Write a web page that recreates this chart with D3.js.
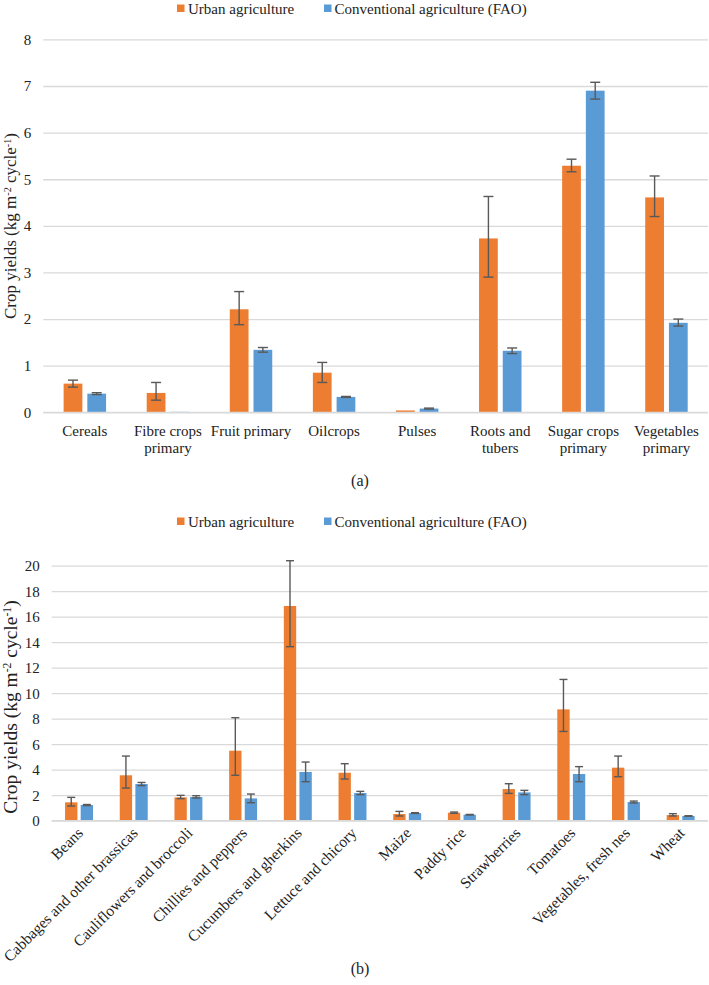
<!DOCTYPE html>
<html>
<head>
<meta charset="utf-8">
<script src="https://cdn.jsdelivr.net/npm/d3@7"></script>
<style>
  html, body { margin: 0; padding: 0; background: #fff; }
  svg { display: block; }
  svg text { font-family: "Liberation Serif", "Tinos", "Times New Roman", "DejaVu Serif", serif; }
</style>
</head>
<body>
<svg id="chart" width="709" height="985"></svg>
<script>
// ---------- Data ----------
const seriesNames = ["Urban agriculture", "Conventional agriculture (FAO)"];
const seriesColors = ["#ED7D31", "#5B9BD5"];

// Panel (a)
const categoriesA = ["Cereals", "Fibre crops primary", "Fruit primary", "Oilcrops", "Pulses", "Roots and tubers", "Sugar crops primary", "Vegetables primary"];
const urbanA      = [0.615, 0.415, 2.21, 0.85, 0.04, 3.73, 5.29, 4.61];
const urbanA_lo   = [0.54, 0.26, 1.88, 0.64, null, 2.90, 5.16, 4.20];
const urbanA_hi   = [0.69, 0.64, 2.59, 1.07, null, 4.63, 5.43, 5.07];
const convA       = [0.40, 0.01, 1.34, 0.33, 0.08, 1.32, 6.90, 1.92];
const convA_lo    = [0.38, null, 1.29, 0.32, 0.07, 1.26, 6.72, 1.85];
const convA_hi    = [0.42, null, 1.39, 0.34, 0.09, 1.38, 7.08, 2.00];
const ticksA      = [0, 1, 2, 3, 4, 5, 6, 7, 8];

// Panel (b)
const categoriesB = ["Beans", "Cabbages and other brassicas", "Cauliflowers and broccoli", "Chillies and peppers", "Cucumbers and gherkins", "Lettuce and chicory", "Maize", "Paddy rice", "Strawberries", "Tomatoes", "Vegetables, fresh nes", "Wheat"];
const urbanB      = [1.44, 3.56, 1.83, 5.49, 16.84, 3.76, 0.52, 0.63, 2.48, 8.73, 4.16, 0.44];
const urbanB_lo   = [1.15, 2.56, 1.73, 3.56, 13.65, 3.27, 0.37, 0.58, 2.14, 7.00, 3.45, 0.37];
const urbanB_hi   = [1.83, 5.07, 1.99, 8.08, 20.39, 4.47, 0.73, 0.68, 2.90, 11.08, 5.07, 0.55];
const convB       = [1.23, 2.88, 1.86, 1.75, 3.82, 2.17, 0.60, 0.47, 2.22, 3.66, 1.46, 0.37];
const convB_lo    = [1.19, 2.75, 1.78, 1.41, 3.06, 2.04, 0.57, 0.45, 2.04, 3.06, 1.39, 0.35];
const convB_hi    = [1.27, 3.00, 1.96, 2.09, 4.60, 2.30, 0.63, 0.49, 2.38, 4.24, 1.54, 0.39];
const ticksB      = [0, 2, 4, 6, 8, 10, 12, 14, 16, 18, 20];

// ---------- Drawing ----------
const FONT = "'Liberation Serif', Tinos, 'Times New Roman', 'DejaVu Serif', serif";
const svg = d3.select("#chart");
const gridColor = "#D9D9D9";
const errColor = "#595959";
const textColor = "#222";

function buildRows(cats, u, ulo, uhi, c, clo, chi) {
  return cats.map((name, i) => ({
    name,
    vals: [
      { s: 0, v: u[i], lo: ulo[i], hi: uhi[i] },
      { s: 1, v: c[i], lo: clo[i], hi: chi[i] }
    ]
  }));
}

function drawLegend(yCenter) {
  const g = svg.append("g");
  const items = [{ x: 177, tx: 188 }, { x: 324, tx: 334.5 }];
  items.forEach((it, i) => {
    g.append("rect").attr("x", it.x).attr("y", yCenter - 4).attr("width", 7.5).attr("height", 7.5)
      .attr("fill", seriesColors[i]);
    g.append("text").attr("x", it.tx).attr("y", yCenter + 5).attr("font-size", 15)
      .attr("font-family", FONT).attr("fill", textColor).text(seriesNames[i]);
  });
}

function drawYTitle(cx, cy, size) {
  const t = svg.append("text")
    .attr("transform", `translate(${cx},${cy}) rotate(-90)`)
    .attr("text-anchor", "middle")
    .attr("font-size", size)
    .attr("font-family", FONT)
    .attr("fill", textColor);
  t.append("tspan").text("Crop yields (kg m");
  t.append("tspan").attr("font-size", size * 0.6).attr("dy", -size * 0.32).text("-2");
  t.append("tspan").attr("dy", size * 0.32).text(" cycle");
  t.append("tspan").attr("font-size", size * 0.6).attr("dy", -size * 0.32).text("-1");
  t.append("tspan").attr("dy", size * 0.32).text(")");
}

function drawPanel(opts) {
  const rows = buildRows(...opts.data);
  const x0 = d3.scaleBand().domain(opts.cats).range([opts.left, opts.right]).padding(0);
  const bw = x0.bandwidth();
  const x1 = d3.scaleBand().domain([0, 1]).range([0.2445 * bw, 0.7555 * bw]).paddingInner(0.2095).paddingOuter(0);
  const y = d3.scaleLinear().domain(opts.domain).range([opts.bottom, opts.top]);

  // gridlines
  const yAxis = d3.axisLeft(y).tickValues(opts.ticks).tickSize(-(opts.right - opts.left)).tickPadding(12);
  const ga = svg.append("g").attr("transform", `translate(${opts.left},0)`).call(yAxis);
  ga.attr("font-family", FONT);
  ga.select(".domain").remove();
  ga.selectAll(".tick line").attr("stroke", gridColor).attr("stroke-width", 1.3);
  ga.selectAll(".tick text").attr("font-size", 15).attr("fill", textColor).attr("font-family", FONT);

  // bars
  const g = svg.append("g");
  const groups = g.selectAll("g.cat").data(rows).join("g")
    .attr("transform", d => `translate(${x0(d.name)},0)`);
  groups.selectAll("rect").data(d => d.vals).join("rect")
    .attr("x", d => x1(d.s)).attr("width", x1.bandwidth())
    .attr("y", d => y(d.v)).attr("height", d => y(0) - y(d.v))
    .attr("fill", d => seriesColors[d.s]);

  // error bars
  const cap = opts.cap;
  const eb = groups.selectAll("g.err").data(d => d.vals.filter(v => v.lo != null)).join("g")
    .attr("stroke", errColor).attr("stroke-width", 1.4);
  eb.append("line")
    .attr("x1", d => x1(d.s) + x1.bandwidth() / 2).attr("x2", d => x1(d.s) + x1.bandwidth() / 2)
    .attr("y1", d => y(d.lo)).attr("y2", d => y(d.hi));
  eb.append("line")
    .attr("x1", d => x1(d.s) + x1.bandwidth() / 2 - cap / 2).attr("x2", d => x1(d.s) + x1.bandwidth() / 2 + cap / 2)
    .attr("y1", d => y(d.hi)).attr("y2", d => y(d.hi));
  eb.append("line")
    .attr("x1", d => x1(d.s) + x1.bandwidth() / 2 - cap / 2).attr("x2", d => x1(d.s) + x1.bandwidth() / 2 + cap / 2)
    .attr("y1", d => y(d.lo)).attr("y2", d => y(d.lo));

  // zero axis line
  svg.append("line").attr("x1", opts.left).attr("x2", opts.right)
    .attr("y1", y(0)).attr("y2", y(0)).attr("stroke", gridColor).attr("stroke-width", 1.3);

  return { x0, y };
}

// ----- Panel (a) -----
drawLegend(8.5);
const pa = drawPanel({
  cats: categoriesA,
  data: [categoriesA, urbanA, urbanA_lo, urbanA_hi, convA, convA_lo, convA_hi],
  left: 43.3, right: 708, top: 39.4, bottom: 412.3, domain: [0, 8], ticks: ticksA, cap: 10
});
drawYTitle(16, 226, 17);

// wrapped x labels
categoriesA.forEach(name => {
  const cx = pa.x0(name) + pa.x0.bandwidth() / 2;
  const t = svg.append("text").attr("text-anchor", "middle").attr("font-size", 15)
    .attr("font-family", FONT).attr("fill", textColor);
  const words = name.split(" ");
  const maxW = pa.x0.bandwidth() - 2;
  let lines = [], line = [];
  const probe = svg.append("text").attr("font-size", 15).attr("font-family", FONT).attr("visibility", "hidden");
  words.forEach(w => {
    const test = line.concat([w]).join(" ");
    probe.text(test);
    if (probe.node().getComputedTextLength() > maxW && line.length) {
      lines.push(line.join(" "));
      line = [w];
    } else line.push(w);
  });
  lines.push(line.join(" "));
  probe.remove();
  lines.forEach((l, i) => {
    t.append("tspan").attr("x", cx).attr("y", 436 + i * 17).text(l);
  });
});

svg.append("text").attr("x", 360).attr("y", 486).attr("text-anchor", "middle")
  .attr("font-size", 16).attr("font-family", FONT).attr("fill", textColor).text("(a)");

// ----- Panel (b) -----
drawLegend(521.5);
const pb = drawPanel({
  cats: categoriesB,
  data: [categoriesB, urbanB, urbanB_lo, urbanB_hi, convB, convB_lo, convB_hi],
  left: 51.7, right: 708, top: 565.7, bottom: 820.7, domain: [0, 20], ticks: ticksB, cap: 8
});
drawYTitle(17, 707, 19.5);

categoriesB.forEach(name => {
  const cx = pb.x0(name) + pb.x0.bandwidth() / 2;
  svg.append("text")
    .attr("transform", `translate(${cx + 5},${834}) rotate(-45)`)
    .attr("text-anchor", "end")
    .attr("font-size", 15.5)
    .attr("font-family", FONT)
    .attr("fill", textColor)
    .text(name);
});

svg.append("text").attr("x", 360).attr("y", 974).attr("text-anchor", "middle")
  .attr("font-size", 16).attr("font-family", FONT).attr("fill", textColor).text("(b)");
</script>
</body>
</html>
